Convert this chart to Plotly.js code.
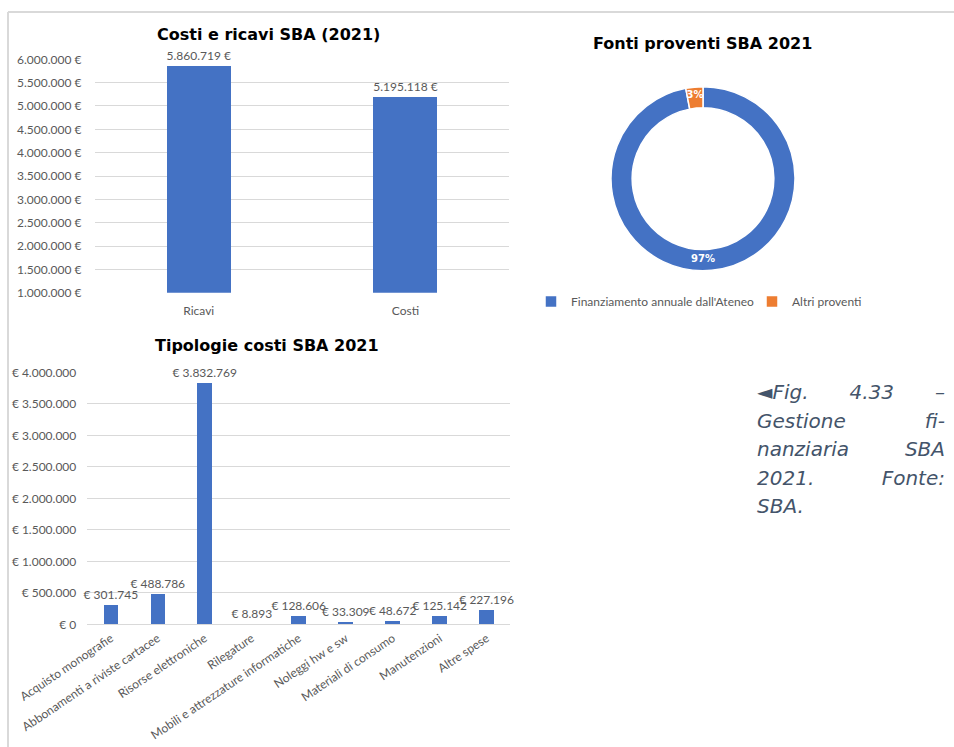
<!DOCTYPE html>
<html>
<head>
<meta charset="utf-8">
<script src="https://cdn.plot.ly/plotly-3.0.1.min.js"></script>
<style>
  html, body { margin: 0; padding: 0; background: #ffffff; overflow: hidden; }
  #wrap { position: relative; width: 954px; height: 747px; }
  #chart { position: absolute; left: 0; top: 0; width: 954px; height: 747px; }
  #cap { position: absolute; left: 757px; top: 378px; width: 188px;
         font-family: 'DejaVu Sans', Verdana, sans-serif; font-style: italic;
         font-size: 20px; line-height: 28.5px; color: #44546a; }
  #cap div { text-align: justify; text-align-last: justify; white-space: nowrap; }
  #cap div.last { text-align-last: left; }
</style>
</head>
<body>
<div id="wrap">
  <div id="chart"></div>
  <div id="cap">
    <div>◄Fig. 4.33 –</div>
    <div>Gestione fi-</div>
    <div>nanziaria SBA</div>
    <div>2021. Fonte:</div>
    <div class="last">SBA.</div>
  </div>
</div>
<script>
// ---- data ----
var costRevCategories = ['Ricavi', 'Costi'];
var costRevValues = [5860719, 5195118];
var costRevTicks = [1000000, 1500000, 2000000, 2500000, 3000000, 3500000, 4000000, 4500000, 5000000, 5500000, 6000000];

var sourceLabels = ["Finanziamento annuale dall'Ateneo", 'Altri proventi'];
var sourceValues = [97, 3];

var costTypeCategories = ['Acquisto monografie', 'Abbonamenti a riviste cartacee', 'Risorse elettroniche',
  'Rilegature', 'Mobili e attrezzature informatiche', 'Noleggi hw e sw', 'Materiali di consumo',
  'Manutenzioni', 'Altre spese'];
var costTypeValues = [301745, 488786, 3832769, 8893, 128606, 33309, 48672, 125142, 227196];
var costTypeTicks = [0, 500000, 1000000, 1500000, 2000000, 2500000, 3000000, 3500000, 4000000];

// ---- helpers ----
function itNum(v) {
  return String(Math.round(v)).replace(/\B(?=(\d{3})+(?!\d))/g, '.');
}
var W = 954, H = 747;
function px(x) { return x / W; }
function py(y) { return 1 - y / H; }

var BLUE = '#4472c4', ORANGE = '#ed7d31', GRAY = '#595959', GRID = '#d9d9d9';
var LF = 'Lato, Carlito, Calibri, sans-serif';
var TF = 'DejaVu Sans, Verdana, sans-serif';

var traces = [
  {
    type: 'bar', x: costRevCategories, y: costRevValues,
    xaxis: 'x', yaxis: 'y', width: 0.31,
    marker: { color: BLUE },
    text: costRevValues.map(function (v) { return itNum(v) + ' €'; }),
    textposition: 'outside', cliponaxis: false,
    textfont: { family: LF, size: 12, color: GRAY },
    hoverinfo: 'x+y', showlegend: false
  },
  {
    type: 'pie', labels: sourceLabels, values: sourceValues,
    hole: 0.77, sort: false, direction: 'clockwise', rotation: 0,
    marker: { colors: [BLUE, ORANGE], line: { color: '#ffffff', width: 1.5 } },
    textinfo: 'percent', textposition: 'inside', insidetextorientation: 'horizontal',
    textfont: { family: TF, size: 10, color: '#ffffff', weight: 'bold' },
    domain: { x: [px(611), px(795)], y: [py(270.7), py(86.7)] },
    showlegend: true
  },
  {
    type: 'bar', x: costTypeCategories, y: costTypeValues,
    xaxis: 'x2', yaxis: 'y2', width: 0.31,
    marker: { color: BLUE },
    text: costTypeValues.map(function (v) { return '€ ' + itNum(v); }),
    textposition: 'outside', cliponaxis: false,
    textfont: { family: LF, size: 12, color: GRAY },
    hoverinfo: 'x+y', showlegend: false
  }
];

var layout = {
  width: W, height: H,
  margin: { l: 0, r: 0, t: 0, b: 0, autoexpand: false },
  paper_bgcolor: '#ffffff', plot_bgcolor: 'rgba(0,0,0,0)',
  font: { family: LF, color: GRAY, size: 11 },
  bargap: 0,
  uniformtext: { minsize: 10, mode: 'show' },
  xaxis: {
    domain: [px(95.4), px(508.8)], anchor: 'y', automargin: false,
    showgrid: false, showline: false, ticks: '', zeroline: false,
    tickfont: { family: LF, size: 12, color: GRAY }, ticklabelstandoff: 9
  },
  yaxis: {
    domain: [py(292.7), py(59.3)], anchor: 'x', automargin: false,
    range: [1000000, 6000000], tickvals: costRevTicks,
    ticktext: costRevTicks.map(function (v) { return itNum(v) + ' €'; }),
    showgrid: true, gridcolor: GRID, gridwidth: 1, zeroline: false, showline: false,
    tickfont: { family: LF, size: 12, color: GRAY }, ticklabelstandoff: 13
  },
  xaxis2: {
    domain: [px(87.3), px(510.2)], anchor: 'y2', automargin: false,
    showgrid: false, showline: false, ticks: '', zeroline: false, tickangle: -34,
    tickfont: { family: LF, size: 12, color: GRAY }, ticklabelstandoff: 4
  },
  yaxis2: {
    domain: [py(624.3), py(372.3)], anchor: 'x2', automargin: false,
    range: [0, 4000000], tickvals: costTypeTicks,
    ticktext: costTypeTicks.map(function (v) { return '€ ' + itNum(v); }),
    showgrid: true, gridcolor: GRID, gridwidth: 1, zeroline: true, zerolinecolor: GRID, zerolinewidth: 1,
    showline: false,
    tickfont: { family: LF, size: 12, color: GRAY }, ticklabelstandoff: 10
  },
  legend: {
    orientation: 'h', x: px(531), y: py(287), xanchor: 'left', yanchor: 'top',
    font: { family: LF, size: 12, color: GRAY }, bgcolor: 'rgba(0,0,0,0)',
    entrywidth: 176, entrywidthmode: 'pixels', traceorder: 'normal'
  },
  annotations: [
    { text: '<b>Costi e ricavi SBA (2021)</b>', xref: 'paper', yref: 'paper',
      x: px(268), y: py(34), xanchor: 'center', yanchor: 'middle', showarrow: false,
      font: { family: TF, size: 16, color: '#000000' } },
    { text: '<b>Fonti proventi SBA 2021</b>', xref: 'paper', yref: 'paper',
      x: px(702.5), y: py(43), xanchor: 'center', yanchor: 'middle', showarrow: false,
      font: { family: TF, size: 16, color: '#000000' } },
    { text: '<b>Tipologie costi SBA 2021</b>', xref: 'paper', yref: 'paper',
      x: px(266.7), y: py(345), xanchor: 'center', yanchor: 'middle', showarrow: false,
      font: { family: TF, size: 16, color: '#000000' } }
  ],
  shapes: [
    { type: 'line', xref: 'paper', yref: 'paper', x0: px(8), x1: 1, y0: py(12), y1: py(12),
      line: { color: GRID, width: 2 } },
    { type: 'line', xref: 'paper', yref: 'paper', x0: px(8), x1: px(8), y0: py(12), y1: 0,
      line: { color: GRID, width: 2 } }
  ]
};

Plotly.newPlot('chart', traces, layout, { displayModeBar: false, staticPlot: true });
</script>
</body>
</html>
